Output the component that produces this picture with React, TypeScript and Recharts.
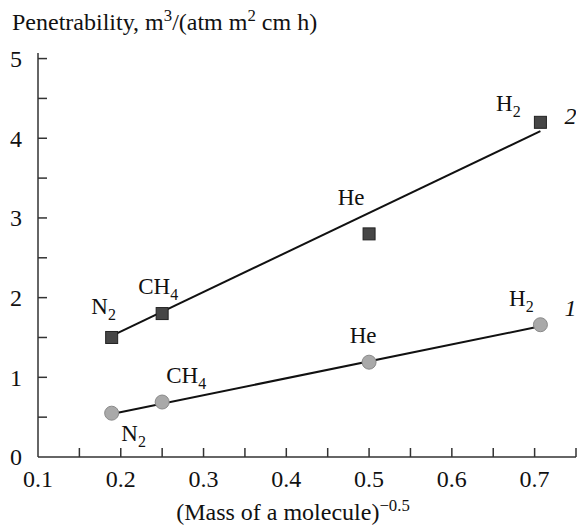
import React from "react";
import { ComposedChart, XAxis, YAxis, Line, Scatter } from "recharts";

// values
const gases = ["N2", "CH4", "He", "H2"];
const invSqrtMass = [0.189, 0.25, 0.5, 0.707];
const penetr2 = [1.5, 1.8, 2.8, 4.2];
const penetr1 = [0.55, 0.69, 1.19, 1.66];
const fitX = [0.189, 0.707];
const fit2 = [1.52, 4.09];
const fit1 = [0.54, 1.64];

const xTicks = [0.1, 0.15, 0.2, 0.25, 0.3, 0.35, 0.4, 0.45, 0.5, 0.55, 0.6, 0.65, 0.7, 0.75];
const xTickLabels = [0.1, 0.2, 0.3, 0.4, 0.5, 0.6, 0.7];
const yTicks = [0, 0.5, 1, 1.5, 2, 2.5, 3, 3.5, 4, 4.5, 5];
const yTickLabels = [0, 1, 2, 3, 4, 5];

const FONT = "'Liberation Serif', 'DejaVu Serif', serif";
const AXIS = "#333";

// label placement relative to marker centre (style, not data)
const labelPos: Record<string, { dx: number; dy: number }> = {
  "2-N2": { dx: -8, dy: -23 },
  "2-CH4": { dx: -4, dy: -20 },
  "2-He": { dx: -18, dy: -29 },
  "2-H2": { dx: -32, dy: -11 },
  "1-N2": { dx: 22, dy: 28 },
  "1-CH4": { dx: 24, dy: -19 },
  "1-He": { dx: -6, dy: -19 },
  "1-H2": { dx: -19, dy: -19 },
};
const seriesNumPos: Record<string, { dx: number; dy: number }> = {
  "2": { dx: 30, dy: 2 },
  "1": { dx: 30, dy: -9 },
};

const sq = gases.map((g, i) => ({ gas: g, x: invSqrtMass[i], y: penetr2[i], s: "2" }));
const ci = gases.map((g, i) => ({ gas: g, x: invSqrtMass[i], y: penetr1[i], s: "1" }));
const line2 = fitX.map((x, i) => ({ x, y: fit2[i] }));
const line1 = fitX.map((x, i) => ({ x, y: fit1[i] }));

function Chem({ x, y, name }: { x: number; y: number; name: string }) {
  const m = name.match(/^([A-Za-z]+?)(\d*)$/);
  const base = m ? m[1] : name;
  const sub = m ? m[2] : "";
  return (
    <text x={x} y={y} textAnchor="middle" fontFamily={FONT} fontSize={23} fill="#111">
      <tspan>{base}</tspan>
      {sub && (
        <tspan dy={6} fontSize={16}>
          {sub}
        </tspan>
      )}
    </text>
  );
}

function Marker(props: any) {
  const { cx, cy, payload } = props;
  const key = payload.s + "-" + payload.gas;
  const lp = labelPos[key];
  const last = payload.gas === gases[gases.length - 1];
  const np = seriesNumPos[payload.s];
  return (
    <g>
      {payload.s === "2" ? (
        <rect x={cx - 6} y={cy - 6} width={12} height={12} fill="#464646" stroke="#222" strokeWidth={1} />
      ) : (
        <circle cx={cx} cy={cy} r={7} fill="#a9a9a9" stroke="#8a8a8a" strokeWidth={1} />
      )}
      {lp && <Chem x={cx + lp.dx} y={cy + lp.dy} name={payload.gas} />}
      {last && (
        <text x={cx + np.dx} y={cy + np.dy} textAnchor="middle" fontFamily={FONT} fontSize={24} fontStyle="italic" fill="#111">
          {payload.s}
        </text>
      )}
    </g>
  );
}

function XTick(props: any) {
  const { x, y, payload } = props;
  const showLabel = xTickLabels.includes(payload.value);
  return (
    <g>
      {payload.value > 0.1 && <line x1={x} x2={x} y1={y} y2={y - 9} stroke={AXIS} strokeWidth={1.5} />}
      {showLabel && (
        <text x={x} y={y + 30} textAnchor="middle" fontFamily={FONT} fontSize={24} fill="#111">
          {payload.value.toFixed(1)}
        </text>
      )}
    </g>
  );
}

function YTick(props: any) {
  const { x, y, payload } = props;
  const showLabel = yTickLabels.includes(payload.value);
  return (
    <g>
      {payload.value > 0 && <line x1={x} x2={x + 9} y1={y} y2={y} stroke={AXIS} strokeWidth={1.5} />}
      {showLabel && (
        <text x={x - 16} y={y} dy="0.35em" textAnchor="end" fontFamily={FONT} fontSize={24} fill="#111">
          {payload.value}
        </text>
      )}
    </g>
  );
}

export default function App() {
  return (
    <div style={{ position: "absolute", left: 0, top: 0, width: 579, height: 529, background: "#fff", fontFamily: FONT, color: "#111" }}>
      <div style={{ position: "absolute", left: 12, top: 10, fontSize: 24, lineHeight: "24px", whiteSpace: "nowrap" }}>
        Penetrability, m<sup style={{ fontSize: "0.7em", lineHeight: 0 }}>3</sup>/(atm m
        <sup style={{ fontSize: "0.7em", lineHeight: 0 }}>2</sup> cm h)
      </div>
      <ComposedChart width={579} height={529} margin={{ top: 53, right: 3, left: 37, bottom: 71 }}>
        <XAxis
          type="number"
          dataKey="x"
          domain={[0.1, 0.75]}
          ticks={xTicks}
          interval={0}
          allowDataOverflow
          height={1}
          tickSize={0}
          tickMargin={0}
          tickLine={false}
          axisLine={{ stroke: AXIS, strokeWidth: 1.5 }}
          tick={<XTick />}
        />
        <YAxis
          type="number"
          dataKey="y"
          domain={[0, 5.07]}
          ticks={yTicks}
          interval={0}
          allowDataOverflow
          width={1}
          tickSize={0}
          tickMargin={0}
          tickLine={false}
          axisLine={{ stroke: AXIS, strokeWidth: 1.5 }}
          tick={<YTick />}
        />
        <Line data={line2} dataKey="y" stroke="#111" strokeWidth={2} dot={false} isAnimationActive={false} />
        <Line data={line1} dataKey="y" stroke="#111" strokeWidth={2} dot={false} isAnimationActive={false} />
        <Scatter data={sq} dataKey="y" shape={<Marker />} isAnimationActive={false} />
        <Scatter data={ci} dataKey="y" shape={<Marker />} isAnimationActive={false} />
      </ComposedChart>
      <div style={{ position: "absolute", left: 3, width: 580, top: 500, fontSize: 24, lineHeight: "24px", textAlign: "center", whiteSpace: "nowrap" }}>
        (Mass of a molecule)<sup style={{ fontSize: "0.7em", lineHeight: 0 }}>−0.5</sup>
      </div>
    </div>
  );
}
